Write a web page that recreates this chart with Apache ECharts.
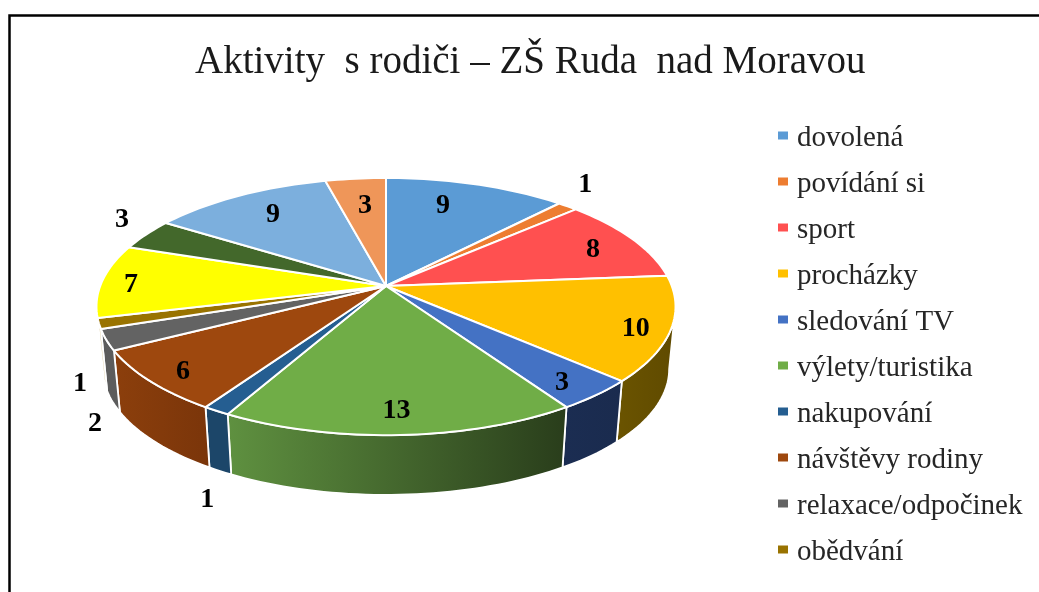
<!DOCTYPE html>
<html>
<head>
<meta charset="utf-8">
<style>html,body{margin:0;padding:0;background:#fff}#c{width:1039px;height:592px}</style>
<script src="https://cdn.jsdelivr.net/npm/echarts@6/dist/echarts.min.js"></script>
</head>
<body>
<div id="c"></div>
<script>
// Data
const titleText = 'Aktivity  s rodiči – ZŠ Ruda  nad Moravou';
const categories = ['dovolená','povídání si','sport','procházky','sledování TV','výlety/turistika','nakupování','návštěvy rodiny','relaxace/odpočinek','obědvání','položka 11','položka 12','položka 13','položka 14'];
const values = [9,1,8,10,3,13,1,6,2,1,7,3,9,3];
const legendNames = categories.slice(0,10);

// Styles
const topColors = ['#5B9BD5','#ED7D31','#FF5050','#FFC000','#4472C4','#70AD47','#255E91','#9E480E','#636363','#997300','#FFFF00','#43682B','#7CAFDD','#EF9659'];
const sideLeft  = {3:'#6b5400',4:'#1b2d52',5:'#5f9140',6:'#1c4669',7:'#8c3f0c',8:'#5c5c5c',9:'#dccb9c'};
const sideRight = {3:'#5f4a00',4:'#1a2b4e',5:'#293d1b',6:'#1c4669',7:'#7a350a',8:'#5c5c5c',9:'#dccb9c'};
// Label placement relative to each slice: radius fraction, angle shift in degrees
const labelRadius = [.764,1.241,.825,.887,.871,.849,1.419,.882,1.267,1.173,.896,1.174,.777,.736];
const labelShift  = [-4.4,-4.7,1,1.6,1.2,.2,-10.5,-.7,-23.1,-19,-.9,4.4,1.4,.7];

// Perspective disc projection
const CX = 386, CY = 286, A = 285.8, B = 125.3, K = 0.16, DEPTH_Y = 63, DEPTH_S = 0.978;
const TANGENT = Math.acos(-K)*180/Math.PI; // where the top rim is widest
function project(deg, r, lower){
  const t = deg*Math.PI/180, u = r*Math.sin(t), v = r*Math.cos(t), d = 1+K*v;
  const s = lower ? DEPTH_S : 1;
  return [CX + s*A*u/d, CY + (lower?DEPTH_Y:0) - s*B*v/d];
}
const total = values.reduce((a,b)=>a+b,0);
const startDeg = [];
values.reduce((acc,v,i)=>{startDeg[i]=acc/total*360;return acc+v;},0);
function rim(a0,a1,lower){
  const n = Math.max(2,Math.ceil((a1-a0)/1.5)), p=[];
  for(let j=0;j<=n;j++) p.push(project(a0+(a1-a0)*j/n,1,lower));
  return p;
}
function topItem(i){
  return function(params,api){
    const a0 = startDeg[i], a1 = a0 + api.value(0)/total*360;
    const mid = (a0+a1)/2;
    const pts = [[CX,CY]].concat(rim(a0,a1,false));
    const lp = project(mid+labelShift[i],labelRadius[i],false);
    return {type:'group',children:[
      {type:'polygon',shape:{points:pts},style:{fill:topColors[i],stroke:'#fff',lineWidth:2,lineJoin:'round'}},
      {type:'text',x:lp[0],y:lp[1]+2,z2:10,style:{text:String(api.value(0)),fill:'#000',font:'bold 28px "Liberation Serif"',textAlign:'center',textVerticalAlign:'middle'}}
    ]};
  };
}
function sideItem(i){
  return function(params,api){
    let a0 = startDeg[i], a1 = a0 + api.value(0)/total*360;
    const mv = Math.cos((a0+a1)/2*Math.PI/180);
    if(mv >= -K) return null;
    a0 = Math.max(a0,TANGENT);
    a1 = Math.min(a1,360-TANGENT);
    const pts = rim(a0,a1,false).concat(rim(a0,a1,true).reverse());
    return {type:'polygon',shape:{points:pts},style:{
      fill:new echarts.graphic.LinearGradient(0,0,1,0,[{offset:0,color:sideLeft[i]},{offset:1,color:sideRight[i]}]),
      stroke:'#fff',lineWidth:1.8,lineJoin:'round'}};
  };
}
const series = [];
categories.forEach((name,i)=>{
  series.push({type:'custom',name,coordinateSystem:'none',z:3,silent:true,animation:false,itemStyle:{color:topColors[i]},data:[[values[i]]],renderItem:topItem(i)});
});
categories.forEach((name,i)=>{
  if(sideLeft[i]) series.push({type:'custom',name,coordinateSystem:'none',z:2,silent:true,animation:false,itemStyle:{color:topColors[i]},data:[[values[i]]],renderItem:sideItem(i)});
});
const chart = echarts.init(document.getElementById('c'),null,{renderer:'canvas'});
chart.setOption({
  backgroundColor:'#fff',
  animation:false,
  title:{text:titleText,left:190,top:37,textStyle:{fontFamily:'"Liberation Serif"',fontSize:39,fontWeight:'normal',color:'#1a1a1a',lineHeight:42}},
  legend:{data:legendNames.map(name=>({name,icon:'rect'})),orient:'vertical',left:773,top:110,itemWidth:10,itemHeight:8,itemGap:5,selectedMode:false,
    formatter:name=>'{a|'+name+'}',
    textStyle:{fontFamily:'"Liberation Serif"',fontSize:29,color:'#262626',padding:[0,0,0,4],
      rich:{a:{fontFamily:'"Liberation Serif"',fontSize:29,color:'#262626',height:36,lineHeight:36,padding:[5,0,0,0]}}}},
  graphic:[{type:'rect',silent:true,z:0,shape:{x:9.5,y:15.5,width:1200,height:800},style:{fill:'none',stroke:'#000',lineWidth:2.5}}],
  series
});
</script>
</body>
</html>
